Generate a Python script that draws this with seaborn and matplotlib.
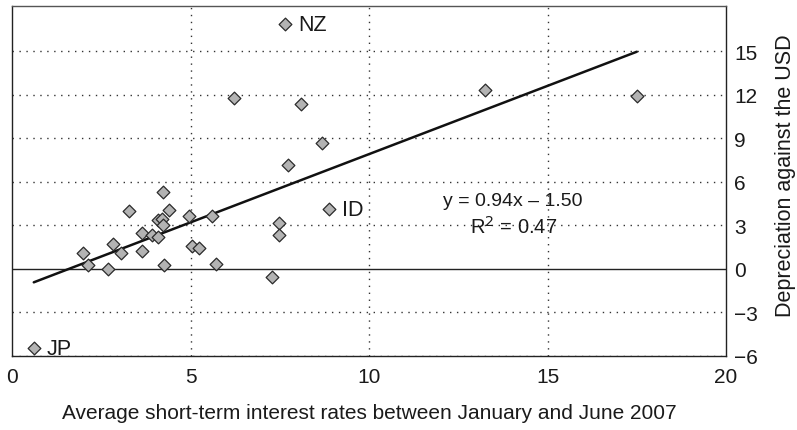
import matplotlib
matplotlib.use("Agg")
import matplotlib.pyplot as plt
import numpy as np
import pandas as pd
import seaborn as sns

# Average short-term interest rate (Jan-Jun 2007) and depreciation against the USD
rates = [0.61, 2.00, 2.14, 2.70, 2.84, 3.05, 3.28, 3.63, 3.63, 3.91, 4.08,
         4.10, 4.19, 4.24, 4.24, 4.26, 4.40, 4.96, 5.05, 5.24, 5.59, 5.71,
         6.23, 7.29, 7.49, 7.49, 7.66, 7.74, 8.10, 8.67, 8.88, 13.25, 17.50]
depreciation = [-5.47, 1.08, 0.28, 0.00, 1.72, 1.08, 3.95, 2.46, 1.20, 2.30, 3.38,
                2.18, 3.45, 5.29, 2.99, 0.28, 4.02, 3.61, 1.54, 1.43, 3.61, 0.34,
                11.77, -0.57, 3.15, 2.34, 16.85, 7.12, 11.36, 8.67, 4.09, 12.30, 11.88]
labels = {"JP": (0.61, -5.47), "NZ": (7.66, 16.85), "ID": (8.88, 4.09)}

slope, intercept, r2 = 0.94, -1.50, 0.47

x_ticks = [0, 5, 10, 15, 20]
y_ticks = [-6, -3, 0, 3, 6, 9, 12, 15]

df = pd.DataFrame({"rate": rates, "dep": depreciation})

sns.set_theme(style="white")
plt.rcParams["font.family"] = ["Liberation Sans", "DejaVu Sans"]
plt.rcParams["axes.unicode_minus"] = True

fig = plt.figure(figsize=(7.97, 4.31), dpi=100)
ax = fig.add_axes([12 / 797, 1 - 357 / 431, 714 / 797, 350 / 431])

# dotted reference grid
for xv in x_ticks[1:-1]:
    ax.axvline(xv, color="#333333", lw=1.0, ls=(0, (1, 4)), zorder=0)
for yv in y_ticks:
    if yv != 0:
        ax.axhline(yv, color="#333333", lw=1.0, ls=(0, (1, 4)), zorder=0)
ax.axhline(0, color="#222222", lw=1.0, zorder=1)

# fitted line across the observed range
xs = np.array([min(rates), max(rates)])
ax.plot(xs, slope * xs + intercept, color="#111111", lw=1.8, zorder=2)

sns.scatterplot(data=df, x="rate", y="dep", marker="D", s=42,
                color="#b3b3b3", edgecolor="#2a2a2a", linewidth=0.9,
                ax=ax, zorder=3, legend=False)

for name, (lx, ly) in labels.items():
    ax.annotate(name, (lx, ly), xytext=(9, 0), textcoords="offset points",
                ha="left", va="center", fontsize=15.5, color="#1a1a1a")

ax.text(14.03, 4.69, f"y = {slope:.2f}x \u2013 {abs(intercept):.2f}",
        ha="center", va="center", fontsize=14, color="#1a1a1a")
ax.text(14.05, 2.95, f"R$^2$ = {r2:.2f}", ha="center", va="center",
        fontsize=14.5, color="#1a1a1a")

ax.set_xlim(0, 20)
ax.set_ylim(-6, 18.1)
ax.set_xticks(x_ticks)
ax.set_yticks(y_ticks)
ax.yaxis.tick_right()
ax.tick_params(axis="both", length=0, labelsize=15, colors="#1a1a1a")
ax.tick_params(axis="x", pad=8)
ax.tick_params(axis="y", pad=6)

ax.set_xlabel("Average short-term interest rates between January and June 2007",
              fontsize=15, color="#1a1a1a", labelpad=12)
ax.set_ylabel("")
fig.text(785 / 797, 1 - 176 / 431, "Depreciation against the USD", rotation=90,
         ha="center", va="center", fontsize=15.5, color="#1a1a1a")

for side, sp in ax.spines.items():
    sp.set_visible(True)
    sp.set_color("#222222")
    sp.set_linewidth(1.0)
ax.spines["top"].set_color("#555555")

fig.savefig("out.png", dpi=100)
